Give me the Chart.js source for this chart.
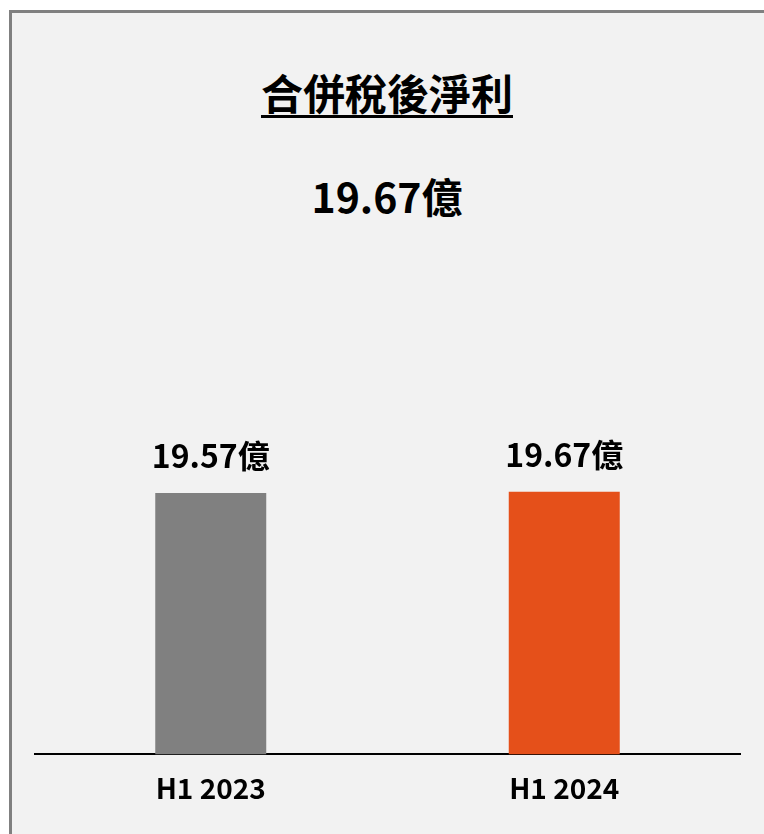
<!DOCTYPE html>
<html>
<head>
<meta charset="utf-8">
<script src="https://cdn.jsdelivr.net/npm/chart.js@4"></script>
<style>
  body { margin:0; background:#fff; width:764px; height:834px; overflow:hidden; position:relative; font-family:"Noto Sans CJK TC","Noto Sans",sans-serif; }
  #box { position:absolute; left:9px; top:10px; width:760px; height:830px; background:#f2f2f2; border-left:3px solid #808080; border-top:3px solid #808080; }
  #title { position:absolute; left:5px; top:61px; width:764px; text-align:center; font-size:42px; font-weight:bold; color:#000; }
  #title span { text-decoration:underline; text-decoration-thickness:3px; text-underline-offset:5px; }
  #total { position:absolute; left:5px; top:165px; width:764px; text-align:center; font-size:41px; font-weight:bold; color:#000; }
  #wrap { position:absolute; left:34px; top:200px; width:707px; height:622px; }
</style>
</head>
<body>
<div id="box"></div>
<div id="title"><span>合併稅後淨利</span></div>
<div id="total">19.67億</div>
<div id="wrap"><canvas id="myChart"></canvas></div>
<script>
// データ
const labels = ["H1 2023", "H1 2024"];
const values = [19.57, 19.67];
const colors = ["#808080", "#e5501a"];
const unit = "億";

// 棒の上に数値を描く
const valueLabels = {
  id: "valueLabels",
  afterDatasetsDraw(chart) {
    const ctx = chart.ctx;
    const meta = chart.getDatasetMeta(0);
    ctx.save();
    ctx.font = "bold 32px 'Noto Sans CJK TC'";
    ctx.fillStyle = "#000";
    ctx.textAlign = "center";
    ctx.textBaseline = "bottom";
    meta.data.forEach(function(bar, i) {
      ctx.fillText(values[i].toFixed(2) + unit, bar.x, bar.y - 21);
    });
    ctx.restore();
  }
};

var ctx = document.getElementById("myChart").getContext("2d");
var chart = new Chart(ctx, {
  type: "bar",
  data: {
    labels: labels,
    datasets: [{
      data: values,
      backgroundColor: colors,
      barPercentage: 0.314,
      categoryPercentage: 1
    }]
  },
  options: {
    responsive: true,
    maintainAspectRatio: false,
    animation: false,
    layout: { padding: 0 },
    plugins: { legend: { display: false }, tooltip: { enabled: false } },
    scales: {
      x: {
        grid: { display: false, drawTicks: false },
        border: { display: true, color: "#000", width: 2 },
        ticks: { color: "#000", padding: 17, font: { size: 28, weight: "bold", family: "'Noto Sans CJK TC'" } }
      },
      y: {
        display: false,
        min: 0,
        max: 41.5
      }
    }
  },
  plugins: [valueLabels]
});
</script>
</body>
</html>
